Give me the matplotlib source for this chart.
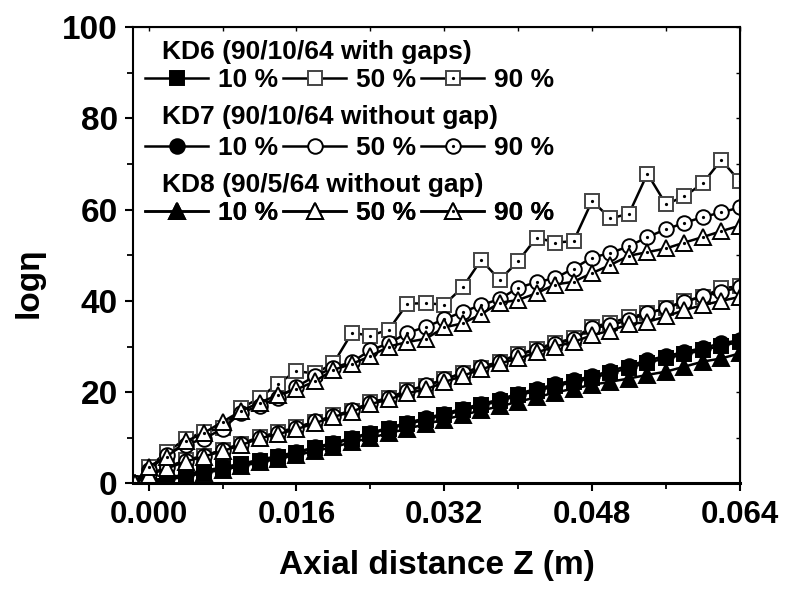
import numpy as np
import matplotlib
matplotlib.use('Agg')
import matplotlib.pyplot as plt
from matplotlib.lines import Line2D
from matplotlib.ticker import MultipleLocator, FixedLocator, FormatStrFormatter

plt.rcParams['font.family'] = ['Liberation Sans', 'DejaVu Sans']
plt.rcParams['font.weight'] = 'bold'

# axial distance (m): start point at the corner, then every 0.002 m
z = [-0.0015] + list(np.round(np.arange(0, 0.0641, 0.002), 4))

# logη, KD6 (90/10/64 with gaps)
kd6_10 = [0, 0.5, 1.1, 1.9, 2.7, 3.4, 4.2, 5.0, 5.8, 6.7, 7.7, 8.7, 9.8, 10.9, 12.0, 13.0, 14.0, 15.0,
          16.0, 17.1, 18.0, 19.3, 20.3, 21.3, 22.2, 23.1, 24.2, 25.3, 26.5, 27.4, 28.3, 29.2, 30.2, 31.0]
kd6_50 = [0, 1.8, 3.6, 5.1, 6.1, 7.3, 8.7, 10.2, 11.2, 12.3, 13.4, 14.9, 15.9, 17.8, 18.7, 20.4, 21.3, 22.8,
          24.2, 25.4, 26.7, 28.3, 29.5, 30.8, 31.8, 34.3, 35.2, 36.4, 37.3, 38.4, 40.0, 40.9, 42.8, 43.2]
kd6_90 = [0, 3.5, 7.0, 9.7, 11.3, 12.1, 16.5, 18.7, 21.9, 24.6, 24.1, 26.3, 33.0, 32.4, 33.7, 39.4, 39.5, 39.2,
          43.0, 49.0, 44.6, 48.7, 53.9, 52.8, 53.1, 61.9, 58.1, 59.1, 67.9, 61.2, 62.9, 65.8, 70.9, 66.2]
# KD7 (90/10/64 without gap)
kd7_10 = [0, 0.6, 1.2, 2.0, 2.8, 3.5, 4.3, 5.2, 6.0, 6.9, 7.9, 8.9, 10.0, 11.1, 12.2, 13.3, 14.3, 15.3,
          16.4, 17.4, 18.4, 19.7, 20.7, 21.7, 22.6, 23.5, 24.7, 25.8, 27.0, 27.9, 28.8, 29.7, 30.7, 31.4]
kd7_50 = [0, 2.0, 3.5, 5.0, 6.0, 7.4, 8.6, 10.0, 11.0, 12.2, 13.6, 14.7, 16.0, 17.6, 18.8, 20.3, 21.5, 22.8,
          24.2, 25.6, 26.6, 28.2, 29.3, 30.6, 31.6, 34.0, 34.7, 35.8, 37.3, 38.4, 39.8, 41.0, 42.0, 43.0]
kd7_90 = [0, 3.0, 6.3, 8.5, 9.8, 12.0, 15.5, 17.0, 18.8, 21.2, 23.5, 25.4, 26.6, 29.2, 30.7, 33.0, 34.3, 36.0,
          37.6, 39.1, 40.4, 42.9, 44.1, 45.0, 47.1, 49.5, 50.5, 52.0, 54.0, 55.7, 57.1, 58.4, 59.4, 60.5]
# KD8 (90/5/64 without gap)
kd8_10 = [0, 0.3, 0.8, 1.5, 2.3, 3.0, 3.8, 4.6, 5.4, 6.2, 7.1, 8.0, 9.0, 10.0, 11.0, 12.0, 13.0, 14.0,
          15.0, 16.0, 16.9, 17.9, 18.9, 19.9, 20.8, 21.6, 22.3, 23.0, 23.8, 24.5, 25.6, 26.7, 27.4, 28.5]
kd8_50 = [0, 1.9, 3.3, 4.8, 5.9, 7.1, 8.4, 9.9, 10.8, 11.9, 13.2, 14.6, 15.7, 17.4, 18.4, 19.8, 20.6, 22.2,
          23.6, 25.0, 26.3, 27.4, 28.7, 30.0, 31.0, 32.5, 33.5, 34.9, 35.4, 36.6, 38.0, 39.1, 40.0, 40.9]
kd8_90 = [0, 3.7, 5.9, 9.2, 11.1, 13.5, 15.9, 17.7, 19.4, 20.6, 22.4, 24.9, 26.2, 27.9, 30.0, 31.0, 31.7, 34.2,
          35.1, 37.1, 39.6, 40.2, 41.7, 43.6, 44.2, 46.1, 47.9, 49.9, 50.7, 51.5, 52.8, 54.0, 55.3, 56.5]

groups = ['KD6 (90/10/64 with gaps)', 'KD7 (90/10/64 without gap)', 'KD8 (90/5/64 without gap)']
levels = ['10 %', '50 %', '90 %']
series = [[kd6_10, kd6_50, kd6_90], [kd7_10, kd7_50, kd7_90], [kd8_10, kd8_50, kd8_90]]
markers = ['s', 'o', '^']
msizes = [9.5, 10.5, 11.5]
edges = ['#444444', 'black', 'black']

fig = plt.figure(figsize=(7.87, 5.91), dpi=100)
ax = fig.add_axes([0.169, 0.182, 0.771, 0.772])

handles = []
for g in range(3):
    row = []
    for k in range(3):
        filled = (k == 0)
        style = dict(color='black', lw=1.8, marker=markers[g], ms=msizes[g],
                     mfc='black' if filled else 'white',
                     mec='black' if filled else edges[g], mew=1.4)
        ax.plot(z, series[g][k], **style)
        h = Line2D([], [], **style)
        if k == 2:
            ax.plot(z, series[g][k], ls='none', marker='o', ms=1.3, color='black')
            h = (h, Line2D([], [], ls='none', marker='o', ms=1.3, color='black'))
        row.append(h)
    handles.append(row)

ax.set_xlim(-0.0017, 0.064)
ax.set_ylim(0, 100)

ax.xaxis.set_major_locator(FixedLocator([0, 0.016, 0.032, 0.048, 0.064]))
ax.xaxis.set_minor_locator(MultipleLocator(0.008))
ax.xaxis.set_major_formatter(FormatStrFormatter('%.3f'))
ax.yaxis.set_major_locator(MultipleLocator(20))
ax.yaxis.set_minor_locator(MultipleLocator(10))
ax.tick_params(axis='x', which='major', direction='out', length=6, width=1.5, labelsize=22.5, pad=6)
ax.tick_params(axis='y', which='major', direction='out', length=6, width=1.5, labelsize=24, pad=5)
ax.tick_params(which='minor', direction='out', length=4, width=1.3)
for sp in ax.spines.values():
    sp.set_linewidth(1.5)
ax.spines['bottom'].set_linewidth(2.2)

top = ax.secondary_xaxis('top')
top.xaxis.set_major_locator(FixedLocator([0, 0.016, 0.032, 0.048, 0.064]))
top.xaxis.set_minor_locator(MultipleLocator(0.008))
top.tick_params(which='both', direction='in', length=3, width=1, labeltop=False)
right = ax.secondary_yaxis('right')
right.yaxis.set_major_locator(MultipleLocator(20))
right.yaxis.set_minor_locator(MultipleLocator(10))
right.tick_params(which='both', direction='in', length=3, width=1, labelright=False)

ax.set_xlabel('Axial distance Z (m)', fontsize=24, fontweight='bold')
ax.set_ylabel('logη', fontsize=24, fontweight='bold')
ax.xaxis.set_label_coords(0.5, -0.146)
ax.yaxis.set_label_coords(-0.145, 0.44)


def fx(px):
    return (px - 133) / (740 - 133)


def fy(py):
    return (483.5 - py) / (483.5 - 27)


title_y = [52, 117, 185]
row_y = [80, 148, 213]
for g in range(3):
    ax.text(fx(162), fy(title_y[g]), groups[g], fontsize=19, fontweight='bold',
            ha='left', va='center', transform=ax.transAxes)
    leg = ax.legend(handles[g], levels, ncol=3, loc='center left', frameon=False,
                    bbox_to_anchor=(fx(145), fy(row_y[g])), borderpad=0, borderaxespad=0,
                    handlelength=2.4, handletextpad=0.35, columnspacing=0.2,
                    prop={'size': 19, 'weight': 'bold'})
    ax.add_artist(leg)

fig.savefig('out.png', dpi=100)
